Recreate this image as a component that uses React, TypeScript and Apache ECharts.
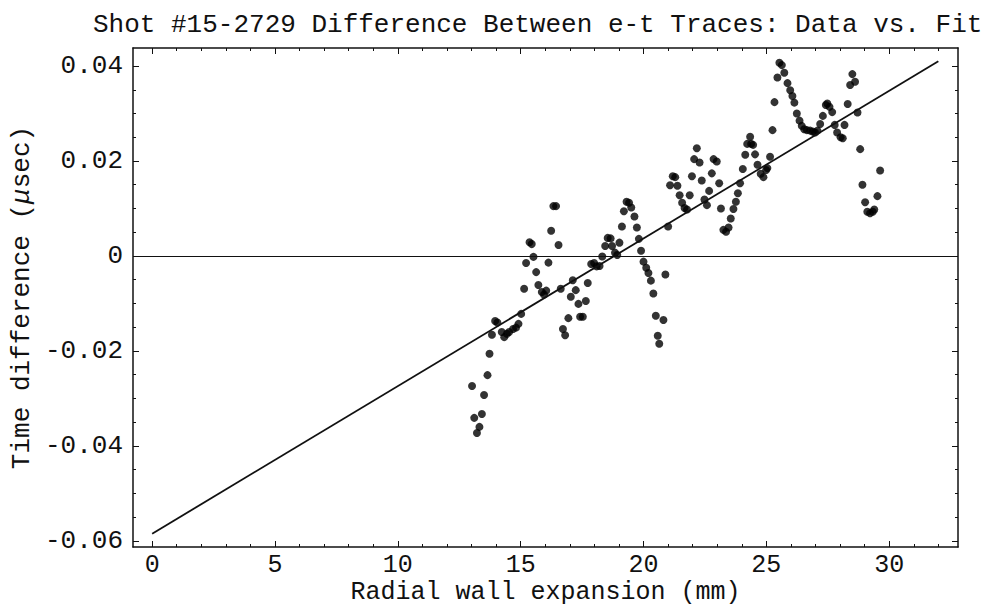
import React, { useEffect, useRef } from "react";
import * as echarts from "echarts";

// Data points (radial wall expansion mm, time difference µs)
const dataX = [
  13.02, 13.11, 13.22, 13.32, 13.42, 13.51, 13.65, 13.73, 13.83, 13.96,
  14.05, 14.23, 14.33, 14.44, 14.53, 14.69, 14.81, 14.91, 15.02, 15.14,
  15.22, 15.36, 15.45, 15.52, 15.63, 15.72, 15.86, 15.95, 16.04, 16.13,
  16.24, 16.33, 16.44, 16.54, 16.63, 16.72, 16.81, 16.94, 17.04, 17.12,
  17.24, 17.35, 17.42, 17.53, 17.65, 17.73, 17.87, 17.99, 18.09, 18.21,
  18.32, 18.44, 18.54, 18.66, 18.72, 18.84, 18.93, 19.02, 19.12, 19.2,
  19.31, 19.41, 19.5, 19.63, 19.73, 19.81, 19.9, 20.0, 20.11, 20.2,
  20.3, 20.4, 20.5, 20.58, 20.64, 20.81, 20.89, 21.0, 21.08, 21.19,
  21.29, 21.38, 21.47, 21.57, 21.67, 21.77, 21.88, 21.97, 22.06, 22.17,
  22.28, 22.37, 22.48, 22.58, 22.67, 22.78, 22.85, 22.98, 23.08, 23.15,
  23.25, 23.36, 23.46, 23.55, 23.66, 23.76, 23.84, 23.93, 24.04, 24.14,
  24.22, 24.34, 24.38, 24.46, 24.54, 24.64, 24.77, 24.88, 24.99, 25.04,
  25.15, 25.25, 25.33, 25.45, 25.53, 25.63, 25.73, 25.86, 25.97, 26.06,
  26.14, 26.24, 26.35, 26.44, 26.54, 26.65, 26.78, 26.89, 26.98, 27.08,
  27.19, 27.3, 27.42, 27.48, 27.57, 27.68, 27.78, 27.88, 28.02, 28.11,
  28.18, 28.31, 28.41, 28.5, 28.61, 28.71, 28.82, 28.91, 29.02, 29.11,
  29.22, 29.33, 29.39, 29.52, 29.63,
];
const dataY = [
  -0.0274, -0.0341, -0.0373, -0.036, -0.0333, -0.0293, -0.0251, -0.0206, -0.0166, -0.0137,
  -0.014, -0.016, -0.0171, -0.0164, -0.016, -0.0154, -0.0151, -0.0143, -0.0122, -0.0069,
  -0.0015, 0.0029, 0.0025, -0.0002, -0.0034, -0.0061, -0.0076, -0.0081, -0.0073, -0.0014,
  0.0053, 0.0105, 0.0105, 0.0023, -0.0069, -0.0154, -0.0167, -0.0131, -0.0086, -0.0051,
  -0.0072, -0.0101, -0.0128, -0.0128, -0.0095, -0.0057, -0.0017, -0.0015, -0.0022, -0.0021,
  -0.0001, 0.0021, 0.0038, 0.0037, 0.0021, 0.0007, 0.0002, 0.0028, 0.0062, 0.0094,
  0.0114, 0.0112, 0.0102, 0.0083, 0.006, 0.0036, 0.0011, -0.0012, -0.0025, -0.0036,
  -0.0052, -0.0079, -0.0126, -0.0168, -0.0185, -0.0135, -0.0039, 0.0062, 0.0149, 0.0168,
  0.0166, 0.0148, 0.0128, 0.0112, 0.0101, 0.0098, 0.0128, 0.0168, 0.0204, 0.0227,
  0.0197, 0.0159, 0.0119, 0.0107, 0.0137, 0.0174, 0.0204, 0.0199, 0.0153, 0.01,
  0.0055, 0.0051, 0.006, 0.0079, 0.0099, 0.0114, 0.0132, 0.0153, 0.0183, 0.0213,
  0.0236, 0.0251, 0.0236, 0.0234, 0.0214, 0.0192, 0.0173, 0.0166, 0.0181, 0.0185,
  0.0209, 0.0265, 0.0324, 0.0376, 0.0407, 0.0402, 0.0386, 0.0364, 0.0349, 0.0337,
  0.0323, 0.03, 0.0285, 0.0274, 0.0267, 0.0265, 0.0264, 0.0262, 0.026, 0.0264,
  0.0278, 0.0295, 0.0318, 0.0321, 0.0314, 0.0303, 0.0276, 0.026, 0.025, 0.0248,
  0.0276, 0.032, 0.036, 0.0383, 0.0367, 0.0302, 0.0225, 0.015, 0.0113, 0.0093,
  0.009, 0.0093, 0.0098, 0.0126, 0.018,
];

// Fitted line endpoints
const fitX = [0, 32];
const fitY = [-0.0585, 0.041];

// Axis ticks
const xMajorTicks = [0, 5, 10, 15, 20, 25, 30];
const xMinorTicks = [
  0, 1, 2, 3, 4, 5, 6, 7, 8, 9, 10, 11, 12, 13, 14, 15, 16,
  17, 18, 19, 20, 21, 22, 23, 24, 25, 26, 27, 28, 29, 30, 31, 32,
];
const yMajorTicks = [-0.06, -0.04, -0.02, 0, 0.02, 0.04];
const yMinorTicks = [
  -0.06, -0.055, -0.05, -0.045, -0.04, -0.035, -0.03, -0.025, -0.02, -0.015, -0.01,
  -0.005, 0, 0.005, 0.01, 0.015, 0.02, 0.025, 0.03, 0.035, 0.04,
];

const X_MIN = -0.78;
const X_MAX = 32.8;
const Y_MIN = -0.0613;
const Y_MAX = 0.0438;

const FONT = "'Liberation Mono', 'DejaVu Sans Mono', monospace";
const INK = "#111";

export default function App() {
  const ref = useRef<HTMLDivElement>(null);

  useEffect(() => {
    if (!ref.current) return;
    const chart = echarts.init(ref.current, null, { renderer: "svg" });
    const lineStyle = { color: INK, width: 1.5 };

    const xAxisBase = (position: string, ticks: number[], len: number, main: boolean) => ({
      type: "value",
      position,
      min: X_MIN,
      max: X_MAX,
      axisLine: { show: main, onZero: false, lineStyle },
      axisTick: { show: true, inside: true, length: len, customValues: ticks, lineStyle: { color: INK, width: 1 } },
      axisLabel: { show: false },
      splitLine: { show: false },
    });
    const yAxisBase = (position: string, ticks: number[], len: number, main: boolean) => ({
      type: "value",
      position,
      min: Y_MIN,
      max: Y_MAX,
      axisLine: { show: main, onZero: false, lineStyle },
      axisTick: { show: true, inside: true, length: len, customValues: ticks, lineStyle: { color: INK, width: 1 } },
      axisLabel: { show: false },
      splitLine: { show: false },
    });

    chart.setOption({
      animation: false,
      backgroundColor: "#fff",
      title: {
        text: "Shot #15-2729 Difference Between e-t Traces: Data vs. Fit",
        left: 88,
        top: 7,
        textStyle: { fontFamily: FONT, fontSize: 26, fontWeight: "normal", color: INK },
      },
      grid: { left: 133, right: 45, top: 48, bottom: 62, containLabel: false, outerBoundsMode: "none" },
      xAxis: [
        {
          ...xAxisBase("bottom", xMajorTicks, 6, true),
          axisLabel: {
            show: true,
            customValues: xMajorTicks,
            fontFamily: FONT,
            fontSize: 25,
            lineHeight: 25,
            color: INK,
            margin: 6,
          },
          name: "Radial wall expansion (mm)",
          nameLocation: "middle",
          nameGap: 33,
          nameMoveOverlap: false,
          nameTextStyle: { fontFamily: FONT, fontSize: 25, lineHeight: 25, color: INK },
        },
        xAxisBase("bottom", xMinorTicks, 3, false),
        xAxisBase("top", xMajorTicks, 6, true),
        xAxisBase("top", xMinorTicks, 3, false),
      ],
      yAxis: [
        {
          ...yAxisBase("left", yMajorTicks, 6, true),
          axisLabel: {
            show: true,
            customValues: yMajorTicks,
            fontFamily: FONT,
            fontSize: 26,
            color: INK,
            margin: 10,
            formatter: (v: number) => (Math.abs(v) < 1e-9 ? "0" : v.toFixed(2)),
          },
          name: "Time difference ({i|μ}sec)",
          nameLocation: "middle",
          nameGap: 98,
          nameRotate: 90,
          nameMoveOverlap: false,
          nameTextStyle: {
            fontFamily: FONT,
            fontSize: 26,
            color: INK,
            rich: { i: { fontFamily: FONT, fontSize: 26, fontStyle: "italic", color: INK } },
          },
        },
        yAxisBase("left", yMinorTicks, 3, false),
        yAxisBase("right", yMajorTicks, 6, true),
        yAxisBase("right", yMinorTicks, 3, false),
      ],
      series: [
        {
          type: "line",
          xAxisIndex: 0,
          yAxisIndex: 0,
          data: fitX.map((x, i) => [x, fitY[i]]),
          showSymbol: false,
          symbol: "none",
          lineStyle: { color: INK, width: 1.8 },
          silent: true,
          markLine: {
            silent: true,
            symbol: "none",
            label: { show: false },
            lineStyle: { color: INK, width: 1.2, type: "solid" },
            data: [{ yAxis: 0 }],
          },
        },
        {
          type: "scatter",
          xAxisIndex: 0,
          yAxisIndex: 0,
          data: dataX.map((x, i) => [x, dataY[i]]),
          symbol: "circle",
          symbolSize: 8,
          itemStyle: { color: "#000" },
          silent: true,
        },
      ],
    });
    return () => chart.dispose();
  }, []);

  return (
    <div
      ref={ref}
      style={{ position: "fixed", left: 0, top: 0, width: 1003, height: 609, background: "#fff" }}
    />
  );
}
